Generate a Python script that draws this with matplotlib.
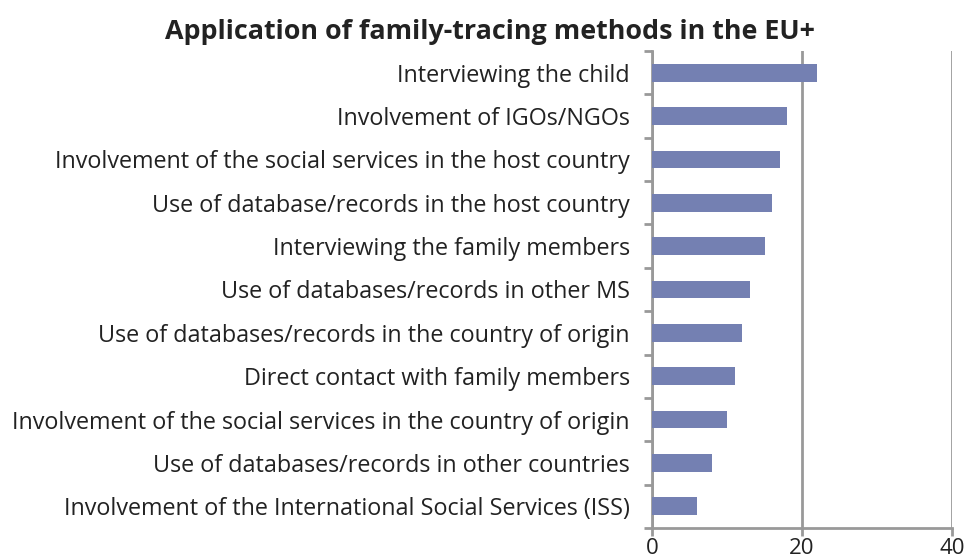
import matplotlib
matplotlib.use("Agg")
import matplotlib.pyplot as plt
from matplotlib.ticker import FixedLocator

plt.rcParams['font.family'] = ['Open Sans', 'DejaVu Sans']

categories = [
    "Interviewing the child",
    "Involvement of IGOs/NGOs",
    "Involvement of the social services in the host country",
    "Use of database/records in the host country",
    "Interviewing the family members",
    "Use of databases/records in other MS",
    "Use of databases/records in the country of origin",
    "Direct contact with family members",
    "Involvement of the social services in the country of origin",
    "Use of databases/records in other countries",
    "Involvement of the International Social Services (ISS)",
]
values = [22, 18, 17, 16, 15, 13, 12, 11, 10, 8, 6]
x_ticks = [0, 20, 40]

grey = "#999999"
bar_color = "#7480b2"

fig = plt.figure(figsize=(9.67, 5.57), dpi=100)
ax = fig.add_axes([652 / 967, 1 - 528 / 557, 300 / 967, 477 / 557])

n = len(categories)
ypos = list(range(n))[::-1]
ax.barh(ypos, values, height=0.41, color=bar_color, zorder=3)

ax.set_xlim(0, 40)
ax.set_ylim(-0.5, n - 0.5)
ax.set_xticks(x_ticks)
ax.set_xticklabels([str(t) for t in x_ticks], fontsize=16, color="#222222")
ax.set_yticks(ypos)
ax.set_yticklabels(categories, fontsize=16.8, color="#222222")
ax.tick_params(axis="y", length=0, pad=16)
ax.yaxis.set_minor_locator(FixedLocator([i + 0.5 for i in range(-1, n)]))
ax.tick_params(axis="y", which="minor", length=6, width=2, color=grey, direction="out")
ax.tick_params(axis="x", length=6, width=2, color=grey, direction="out", pad=1)

ax.xaxis.grid(True, color=grey, linewidth=2, zorder=0)
for side in ["top", "right"]:
    ax.spines[side].set_visible(False)
for side in ["left", "bottom"]:
    ax.spines[side].set_color(grey)
    ax.spines[side].set_linewidth(2)

fig.suptitle("Application of family-tracing methods in the EU+", x=490 / 967, y=1 - 32 / 557,
             fontsize=19.4, fontweight="bold", color="#222222", va="center")

fig.savefig("out.png", dpi=100)
